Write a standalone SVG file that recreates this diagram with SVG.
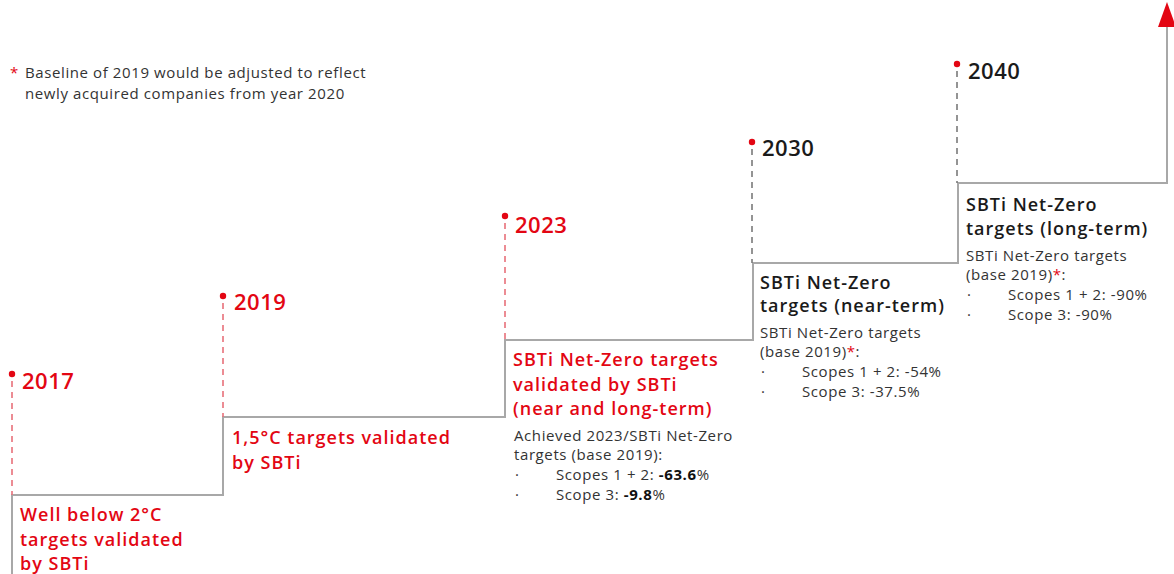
<svg xmlns="http://www.w3.org/2000/svg" width="1174" height="574" viewBox="0 0 1174 574">
<style>
.step{fill:none;stroke:#a8a8a8;stroke-width:2}
.dr{fill:none;stroke:#e8707a;stroke-width:1.6;stroke-dasharray:6,5}
.dg{fill:none;stroke:#7a7a7a;stroke-width:1.6;stroke-dasharray:6,5}
.dot{fill:#e30613}
.yr{font-family:"Open Sans",sans-serif;font-weight:600;font-size:22px;letter-spacing:0.5px}
.red{fill:#e30613}
.blk{fill:#1a1a1a}
.hd{font-family:"Open Sans",sans-serif;font-weight:600;font-size:18px;letter-spacing:1px}
.sm{font-family:"Open Sans",sans-serif;font-size:15px;fill:#333;letter-spacing:0.6px}
.b{font-weight:700;fill:#111}
.ast{fill:#e30613}
</style>
<rect width="1174" height="574" fill="#fff"/>
<g id="footnote">
<text class="sm" x="10" y="78"><tspan class="ast">*</tspan></text>
<text class="sm" x="25" y="78">Baseline of 2019 would be adjusted to reflect</text>
<text class="sm" x="25" y="99">newly acquired companies from year 2020</text>
</g>
<g id="connectors">
<path class="step" d="M12,574 V495 H223 V417 H505 V340 H753 V263 H958 V183 H1167 V24"/>
<polygon points="1167,2 1158,27 1176,27" fill="#e30613"/>
<line class="dr" x1="12" y1="381" x2="12" y2="495"/>
<line class="dr" x1="223" y1="303" x2="223" y2="417"/>
<line class="dr" x1="505" y1="223" x2="505" y2="340"/>
<line class="dg" x1="752" y1="149" x2="752" y2="263"/>
<line class="dg" x1="957" y1="71" x2="957" y2="183"/>
</g>
<g id="node-2017">
<circle class="dot" cx="12" cy="374" r="3.2"/>
<text class="yr red" x="22" y="389">2017</text>
<text class="hd red" x="20" y="521">Well below 2°C</text>
<text class="hd red" x="20" y="546">targets validated</text>
<text class="hd red" x="20" y="570">by SBTi</text>
</g>
<g id="node-2019">
<circle class="dot" cx="223" cy="296" r="3.2"/>
<text class="yr red" x="234" y="310">2019</text>
<text class="hd red" x="232" y="444">1,5°C targets validated</text>
<text class="hd red" x="232" y="469">by SBTi</text>
</g>
<g id="node-2023">
<circle class="dot" cx="505" cy="216" r="3.2"/>
<text class="yr red" x="515" y="233">2023</text>
<text class="hd red" x="513" y="366">SBTi Net-Zero targets</text>
<text class="hd red" x="513" y="391">validated by SBTi</text>
<text class="hd red" x="513" y="415">(near and long-term)</text>
<text class="sm" x="514" y="441">Achieved 2023/SBTi Net-Zero</text>
<text class="sm" x="514" y="460">targets (base 2019):</text>
<text class="sm" x="515" y="480">·</text>
<text class="sm" x="556" y="480">Scopes 1 + 2: <tspan class="b">-63.6</tspan>%</text>
<text class="sm" x="515" y="500">·</text>
<text class="sm" x="556" y="500">Scope 3: <tspan class="b">-9.8</tspan>%</text>
</g>
<g id="node-2030">
<circle class="dot" cx="752" cy="142" r="3.2"/>
<text class="yr blk" x="762" y="156">2030</text>
<text class="hd blk" x="760" y="289">SBTi Net-Zero</text>
<text class="hd blk" x="760" y="312">targets (near-term)</text>
<text class="sm" x="760" y="338">SBTi Net-Zero targets</text>
<text class="sm" x="760" y="357">(base 2019)<tspan class="ast">*</tspan>:</text>
<text class="sm" x="761" y="377">·</text>
<text class="sm" x="802" y="377">Scopes 1 + 2: -54%</text>
<text class="sm" x="761" y="397">·</text>
<text class="sm" x="802" y="397">Scope 3: -37.5%</text>
</g>
<g id="node-2040">
<circle class="dot" cx="957" cy="64" r="3.2"/>
<text class="yr blk" x="968" y="79">2040</text>
<text class="hd blk" x="966" y="211">SBTi Net-Zero</text>
<text class="hd blk" x="966" y="235">targets (long-term)</text>
<text class="sm" x="966" y="261">SBTi Net-Zero targets</text>
<text class="sm" x="966" y="280">(base 2019)<tspan class="ast">*</tspan>:</text>
<text class="sm" x="967" y="300">·</text>
<text class="sm" x="1008" y="300">Scopes 1 + 2: -90%</text>
<text class="sm" x="967" y="320">·</text>
<text class="sm" x="1008" y="320">Scope 3: -90%</text>
</g>
</svg>
